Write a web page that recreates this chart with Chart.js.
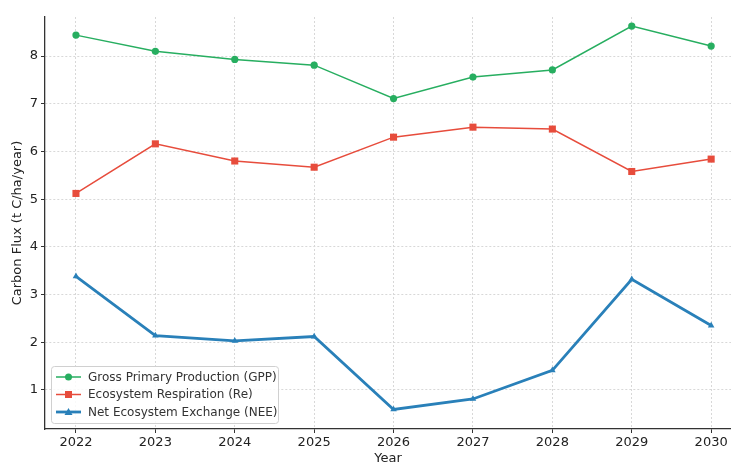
<!DOCTYPE html>
<html>
<head>
<meta charset="utf-8">
<script src="https://cdn.jsdelivr.net/npm/chart.js@4"></script>
<style>
  html, body { margin: 0; padding: 0; background: #fff; overflow: hidden; }
  #wrap { width: 736px; height: 462px; }
</style>
</head>
<body>
<div id="wrap"><canvas id="flux"></canvas></div>
<script>
const years = [2022, 2023, 2024, 2025, 2026, 2027, 2028, 2029, 2030];
const gpp = [8.44, 8.10, 7.93, 7.81, 7.11, 7.56, 7.71, 8.63, 8.21];
const re = [5.12, 6.16, 5.80, 5.67, 6.30, 6.51, 6.47, 5.58, 5.84];
const nee = [3.38, 2.14, 2.03, 2.12, 0.59, 0.81, 1.41, 3.32, 2.35];
const yTicks = [1, 2, 3, 4, 5, 6, 7, 8];

const font = 'DejaVu Sans';
const pts = arr => arr.map((v, i) => ({ x: years[i], y: v }));

// matplotlib-ish legend box in the lower left corner
const boxLegend = {
  id: 'boxLegend',
  afterDraw(chart) {
    const ctx = chart.ctx;
    const area = chart.chartArea;
    const x0 = area.left + 6, y0 = area.bottom - 63, w = 227, h = 57;
    ctx.save();
    ctx.fillStyle = 'rgba(255,255,255,0.85)';
    ctx.strokeStyle = '#d0d0d0';
    ctx.lineWidth = 1;
    ctx.beginPath();
    ctx.roundRect(x0 + 0.5, y0 + 0.5, w, h, 3);
    ctx.fill();
    ctx.stroke();
    ctx.font = '12px ' + font;
    ctx.textBaseline = 'middle';
    chart.data.datasets.forEach((ds, i) => {
      const y = y0 + 11 + i * 17.5;
      ctx.strokeStyle = ds.borderColor;
      ctx.fillStyle = ds.borderColor;
      ctx.lineWidth = ds.borderWidth;
      ctx.beginPath();
      ctx.moveTo(x0 + 5, y);
      ctx.lineTo(x0 + 30, y);
      ctx.stroke();
      const mx = x0 + 17.5;
      ctx.beginPath();
      if (ds.pointStyle === 'circle') ctx.arc(mx, y, 3.5, 0, Math.PI * 2);
      else if (ds.pointStyle === 'rect') ctx.rect(mx - 3.5, y - 3.5, 7, 7);
      else { ctx.moveTo(mx, y - 4); ctx.lineTo(mx + 4, y + 3); ctx.lineTo(mx - 4, y + 3); ctx.closePath(); }
      ctx.fill();
      ctx.fillStyle = '#333';
      ctx.fillText(ds.label, x0 + 37, y + 0.5);
    });
    ctx.restore();
  }
};

new Chart(document.getElementById('flux'), {
  type: 'line',
  data: {
    datasets: [
      {
        label: 'Gross Primary Production (GPP)',
        data: pts(gpp),
        borderColor: '#27ae60',
        backgroundColor: '#27ae60',
        borderWidth: 1.5,
        pointStyle: 'circle',
        pointRadius: 3.6,
        pointBorderWidth: 0,
        tension: 0
      },
      {
        label: 'Ecosystem Respiration (Re)',
        data: pts(re),
        borderColor: '#e74c3c',
        backgroundColor: '#e74c3c',
        borderWidth: 1.5,
        pointStyle: 'rect',
        pointRadius: 5,
        pointBorderWidth: 0,
        tension: 0
      },
      {
        label: 'Net Ecosystem Exchange (NEE)',
        data: pts(nee),
        borderColor: '#2980b9',
        backgroundColor: '#2980b9',
        borderWidth: 2.8,
        pointStyle: 'triangle',
        pointRadius: 3.8,
        pointBorderWidth: 0,
        tension: 0
      }
    ]
  },
  options: {
    responsive: true,
    maintainAspectRatio: false,
    animation: false,
    layout: { padding: { top: 17, right: 0, left: 0, bottom: 0 } },
    plugins: {
      legend: { display: false },
      tooltip: { enabled: false }
    },
    scales: {
      x: {
        type: 'linear',
        min: 2021.61,
        max: 2030.25,
        afterBuildTicks: s => { s.ticks = years.map(v => ({ value: v })); },
        afterFit: s => { s.height = 33; s.paddingRight = 0; s.paddingLeft = 0; },
        ticks: { color: '#222', font: { family: font, size: 13 }, padding: 2, callback: v => String(v) },
        grid: { color: '#d8d8d8', tickColor: '#333', tickLength: 4 },
        border: { color: '#333', width: 1.3, dash: [2, 2] },
        title: { display: true, text: 'Year', color: '#222', font: { family: font, size: 13 }, padding: { top: 0, bottom: -4 } }
      },
      y: {
        min: 0.18,
        max: 8.82,
        afterBuildTicks: s => { s.ticks = yTicks.map(v => ({ value: v })); },
        afterFit: s => { s.width = 45; },
        ticks: { color: '#222', font: { family: font, size: 13 }, padding: 3 },
        grid: { color: '#d8d8d8', tickColor: '#333', tickLength: 4 },
        border: { color: '#333', width: 1.3, dash: [2, 2] },
        title: { display: true, text: 'Carbon Flux (t C/ha/year)', color: '#222', font: { family: font, size: 13 }, padding: { top: 10, bottom: 0 } }
      }
    }
  },
  plugins: [boxLegend]
});
</script>
</body>
</html>
